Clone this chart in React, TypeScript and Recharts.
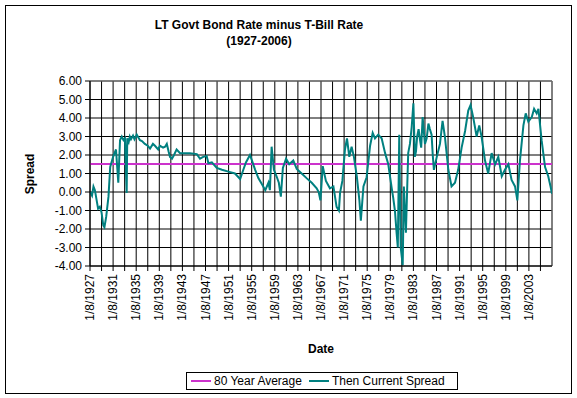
import React from "react";
import {
  LineChart,
  Line,
  XAxis,
  YAxis,
  CartesianGrid,
  ReferenceLine,
} from "recharts";

// decimal years
const dates = [
  1927.0, 1927.35, 1927.6, 1927.85, 1928.4, 1928.7, 1929.0, 1929.3, 1929.5, 1929.8,
  1930.2, 1930.5, 1931.0, 1931.5, 1931.9, 1932.2, 1932.5, 1932.8, 1933.05, 1933.35,
  1933.45, 1933.7, 1933.9, 1934.1, 1934.45, 1934.7, 1935.1, 1935.65, 1936.0, 1936.5,
  1937.0, 1937.4, 1937.9, 1938.25, 1938.8, 1939.1, 1939.65, 1940.0, 1940.3, 1940.6,
  1940.85, 1941.2, 1941.55, 1942.0, 1942.6, 1943.45, 1944.3, 1945.5, 1946.05, 1946.6,
  1947.2, 1947.5, 1948.1, 1948.95, 1949.85, 1950.95, 1952.1, 1953.0, 1953.55, 1954.0,
  1954.7, 1955.05, 1955.6, 1956.15, 1956.8, 1957.35, 1957.9, 1958.15, 1958.45, 1958.85,
  1959.3, 1959.7, 1960.05, 1960.4, 1960.95, 1961.5, 1962.2, 1962.8, 1963.65, 1964.5,
  1965.4, 1966.25, 1966.6, 1966.9, 1967.3, 1967.85, 1968.55, 1969.15, 1969.7, 1970.1,
  1970.3, 1970.7, 1971.15, 1971.5, 1971.9, 1972.3, 1972.7, 1973.2, 1973.65, 1973.9,
  1974.35, 1974.9, 1975.5, 1975.95, 1976.35, 1976.9, 1977.5, 1978.1, 1978.65, 1979.25,
  1979.5, 1979.8, 1980.1, 1980.3, 1980.55, 1980.8, 1981.15, 1981.35, 1981.7, 1982.1,
  1982.4, 1982.7, 1983.0, 1983.25, 1983.45, 1983.65, 1983.9, 1984.15, 1984.35, 1984.6,
  1984.8, 1985.0, 1985.3, 1985.6, 1985.85, 1986.15, 1986.35, 1986.55, 1987.05, 1987.6,
  1988.05, 1988.45, 1989.05, 1989.6, 1990.2, 1990.75, 1991.35, 1991.95, 1992.5, 1992.9,
  1993.35, 1993.95, 1994.4, 1994.8, 1995.4, 1995.95, 1996.55, 1997.15, 1997.7, 1998.3,
  1998.85, 1999.45, 2000.0, 2000.6, 2001.0, 2001.45, 2002.05, 2002.45, 2002.9, 2003.5,
  2003.9, 2004.35, 2004.65, 2005.2, 2005.8, 2006.35, 2006.75, 2007.0,
];

const spread = [
  0.0, -0.2, 0.3, 0.1, -0.9, -0.8, -1.1, -1.8, -1.9, -1.35,
  -0.25, 1.35, 1.9, 2.3, 0.5, 2.8, 3.0, 2.8, 2.9, -0.05,
  2.9, 2.7, 3.0, 2.85, 3.05, 2.85, 3.1, 2.8, 2.75, 2.6,
  2.5, 2.35, 2.6, 2.5, 2.3, 2.5, 2.4, 2.45, 2.6, 2.2,
  1.9, 1.8, 2.0, 2.3, 2.1, 2.1, 2.1, 2.05, 1.8, 1.9,
  1.95, 1.55, 1.6, 1.3, 1.2, 1.1, 1.0, 0.7, 1.2, 1.6,
  2.0, 1.7, 1.2, 0.75, 0.4, 0.1, 0.5, 0.1, 2.45, 1.2,
  0.85, 0.5, -0.25, 1.3, 1.8, 1.5, 1.7, 1.25, 1.0, 0.75,
  0.5, 0.2, 0.0, -0.45, 1.4, 0.6, 0.2, 0.3, -0.8, -1.0,
  -0.05, 0.6, 2.3, 2.9, 1.9, 2.45, 1.9, 0.85, -0.45, -1.55,
  0.3, 0.8, 2.5, 3.2, 2.9, 3.1, 2.9, 2.1, 1.5, 0.2,
  -0.3, -1.0, -2.25, -3.0, 3.1, -3.0, -3.95, 0.3, -2.2, 2.1,
  2.6, 3.5, 4.8, 1.9, 2.2, 3.0, 3.4, 2.8, 2.4, 4.05,
  3.3, 2.6, 2.9, 3.7, 3.4, 3.1, 2.0, 1.2, 1.9, 2.6,
  3.85, 3.0, 1.2, 0.3, 0.5, 1.2, 2.4, 3.3, 4.4, 4.7,
  4.05, 3.0, 3.6, 3.0, 1.7, 1.0, 2.1, 1.5, 1.9, 0.85,
  1.2, 1.5, 0.65, 0.3, -0.45, 1.7, 3.6, 4.25, 3.8, 4.05,
  4.5, 4.25, 4.5, 2.8, 1.35, 0.85, 0.3, -0.1,
];

const AVG_SPREAD = 1.52;

const xTicks = Array.from({ length: 40 }, (_, i) => 1927 + i * 2);
const yTicks = [-4, -3, -2, -1, 0, 1, 2, 3, 4, 5, 6];

const data = dates.map((d, i) => ({ date: d, spread: spread[i], avg: AVG_SPREAD }));

const FONT = "'Liberation Sans', Arial, sans-serif";
const TEAL = "#008080";
const MAGENTA = "#CC33CC";

const DateTick = ({ x, y, payload }: any) => {
  const yr = payload.value;
  if ((yr - 1927) % 4 !== 0) return null;
  return (
    <text
      x={x}
      y={y}
      transform={`rotate(-90, ${x}, ${y})`}
      textAnchor="end"
      dominantBaseline="central"
      fontSize={12}
      fontFamily={FONT}
      fill="#000"
    >
      {`1/8/${yr}`}
    </text>
  );
};

export default function App() {
  return (
    <div
      style={{
        position: "absolute",
        left: 0,
        top: 0,
        width: 577,
        height: 398,
        background: "#fff",
        fontFamily: FONT,
      }}
    >
      <LineChart
        width={577}
        height={398}
        data={data}
        margin={{ top: 81, right: 25, bottom: 72, left: 30 }}
      >
        <CartesianGrid stroke="#000" strokeWidth={1} />
        <XAxis
          dataKey="date"
          type="number"
          domain={[1927, 2007]}
          ticks={xTicks}
          interval={0}
          height={60}
          tickSize={5}
          tickMargin={3}
          stroke="#000"
          tick={<DateTick />}
          allowDataOverflow
        />
        <YAxis
          type="number"
          domain={[-4, 6]}
          ticks={yTicks}
          interval={0}
          width={60}
          tickSize={5}
          tickMargin={3}
          stroke="#000"
          tickFormatter={(v: number) => v.toFixed(2)}
          tick={{ fontSize: 12, fontFamily: FONT, fill: "#000" }}
        />
        <ReferenceLine y={6} stroke="#808080" />
        <ReferenceLine x={2007} stroke="#808080" />
        <Line
          dataKey="avg"
          name="80 Year Average"
          stroke={MAGENTA}
          strokeWidth={2}
          dot={false}
          isAnimationActive={false}
        />
        <Line
          dataKey="spread"
          name="Then Current Spread"
          type="linear"
          stroke={TEAL}
          strokeWidth={2}
          dot={false}
          isAnimationActive={false}
        />
      </LineChart>

      <div style={{ position: "absolute", left: 5, top: 5, width: 565, height: 387, border: "1px solid #000", pointerEvents: "none" }} />

      <div style={{ position: "absolute", left: 0, width: 518, top: 17, textAlign: "center", fontSize: 12, fontWeight: "bold", lineHeight: "16px" }}>
        LT Govt Bond Rate minus T-Bill Rate
        <br />
        (1927-2006)
      </div>

      <div
        style={{
          position: "absolute",
          left: 30,
          top: 174,
          transform: "translate(-50%, -50%) rotate(-90deg)",
          fontSize: 12,
          fontWeight: "bold",
          whiteSpace: "nowrap",
        }}
      >
        Spread
      </div>

      <div style={{ position: "absolute", left: 90, width: 462, top: 342, textAlign: "center", fontSize: 12, fontWeight: "bold" }}>
        Date
      </div>

      <div
        style={{
          position: "absolute",
          left: 186,
          top: 372,
          width: 270,
          height: 16,
          border: "1px solid #000",
          display: "flex",
          alignItems: "center",
          fontSize: 12,
          whiteSpace: "nowrap",
        }}
      >
        <span style={{ display: "inline-block", width: 20, height: 2, background: MAGENTA, marginLeft: 4, marginRight: 3 }} />
        <span>80 Year Average</span>
        <span style={{ display: "inline-block", width: 20, height: 2, background: TEAL, marginLeft: 7, marginRight: 3 }} />
        <span>Then Current Spread</span>
      </div>
    </div>
  );
}
